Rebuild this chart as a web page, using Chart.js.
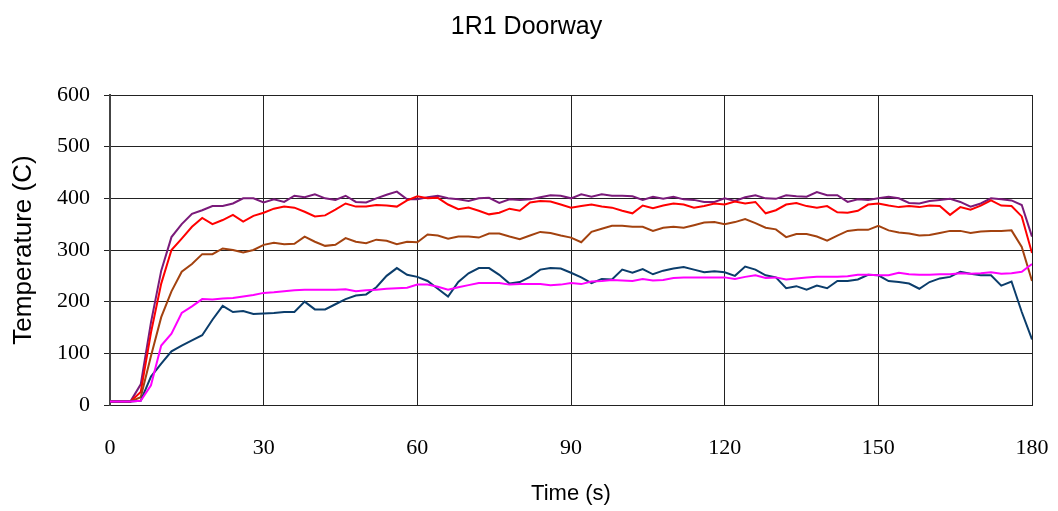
<!DOCTYPE html>
<html>
<head>
<meta charset="utf-8">
<script src="https://cdn.jsdelivr.net/npm/chart.js@4/dist/chart.umd.min.js"></script>
<style>
  html, body { margin: 0; padding: 0; background: #fff; }
  #wrap { width: 1058px; height: 511px; }
</style>
</head>
<body>
<div id="wrap"><canvas id="chart"></canvas></div>
<script>
// Time (s), sampled every 2 s
const times = [0, 2, 4, 6, 8, 10, 12, 14, 16, 18, 20, 22, 24, 26, 28, 30, 32, 34, 36, 38, 40, 42, 44,
  46, 48, 50, 52, 54, 56, 58, 60, 62, 64, 66, 68, 70, 72, 74, 76, 78, 80, 82, 84, 86, 88, 90,
  92, 94, 96, 98, 100, 102, 104, 106, 108, 110, 112, 114, 116, 118, 120, 122, 124, 126, 128, 130, 132, 134,
  136, 138, 140, 142, 144, 146, 148, 150, 152, 154, 156, 158, 160, 162, 164, 166, 168, 170, 172, 174, 176, 178, 180];

// Temperature (C) per thermocouple
const purpleTemps = [7, 7, 7, 40, 160, 260, 325, 350, 370, 377, 385, 385, 390, 400, 400, 392, 398, 393, 405, 402, 408, 400, 397,
  405, 393, 392, 400, 407, 413, 398, 398, 402, 405, 400, 398, 395, 400, 401, 391, 398, 397, 398, 402, 406, 405, 400,
  408, 403, 408, 405, 405, 404, 397, 403, 399, 403, 398, 397, 393, 393, 400, 395, 402, 406, 400, 399, 406, 404,
  403, 412, 406, 406, 393, 398, 397, 400, 403, 400, 391, 390, 395, 397, 399, 393, 384, 390, 400, 398, 396, 387, 326];

const redTemps = [7, 7, 7, 25, 140, 235, 300, 322, 345, 362, 350, 358, 368, 355, 366, 372, 380, 384, 382, 374, 365, 367, 378,
  390, 384, 384, 387, 386, 384, 396, 404, 400, 401, 388, 379, 382, 376, 369, 372, 380, 376, 392, 395, 394, 388, 382,
  385, 388, 384, 382, 376, 371, 386, 381, 386, 390, 388, 382, 385, 390, 388, 394, 390, 393, 371, 377, 388, 391,
  385, 382, 385, 373, 372, 376, 388, 390, 386, 383, 385, 383, 386, 385, 368, 383, 378, 386, 396, 386, 385, 365, 294];

const brownTemps = [7, 7, 7, 15, 95, 170, 220, 258, 273, 292, 292, 303, 300, 295, 300, 310, 314, 311, 312, 326, 316, 308, 310,
  323, 316, 313, 320, 318, 311, 316, 315, 330, 328, 322, 326, 326, 324, 332, 332, 326, 321, 328, 335, 333, 328, 324,
  315, 335, 341, 347, 347, 345, 345, 337, 343, 345, 343, 348, 353, 354, 350, 354, 360, 352, 343, 340, 325, 331,
  331, 326, 318, 328, 337, 339, 339, 347, 338, 334, 332, 328, 329, 333, 337, 337, 333, 336, 337, 337, 338, 306, 240];

const magentaTemps = [7, 7, 7, 8, 38, 115, 138, 178, 191, 205, 204, 206, 207, 210, 213, 217, 218, 220, 222, 223, 223, 223, 223,
  224, 220, 222, 223, 225, 226, 227, 233, 233, 229, 223, 228, 232, 236, 236, 236, 233, 234, 234, 234, 232, 233, 236,
  234, 239, 240, 242, 241, 240, 244, 241, 242, 246, 247, 247, 247, 247, 247, 244, 248, 251, 246, 247, 243, 245,
  247, 248, 248, 248, 249, 252, 252, 251, 251, 256, 253, 252, 252, 253, 253, 255, 254, 255, 257, 254, 255, 258, 273];

const navyTemps = [7, 7, 7, 8, 55, 80, 104, 115, 125, 135, 165, 192, 180, 182, 176, 177, 178, 180, 180, 200, 185, 185, 195,
  205, 212, 214, 228, 250, 265, 252, 248, 240, 225, 210, 238, 255, 265, 265, 252, 235, 238, 248, 262, 265, 264, 256,
  247, 236, 244, 243, 262, 256, 263, 253, 260, 264, 267, 262, 257, 259, 257, 250, 268, 262, 251, 247, 226, 230,
  223, 231, 226, 240, 240, 243, 252, 251, 240, 238, 235, 225, 238, 245, 248, 258, 254, 251, 251, 231, 239, 180, 127];

const titleText = '1R1 Doorway';
const xTitle = 'Time (s)';
const yTitle = 'Temperature (C)';

const toPoints = (vals) => vals.map((v, i) => ({ x: times[i], y: v }));

function series(label, vals, color) {
  return {
    label,
    data: toPoints(vals),
    borderColor: color,
    backgroundColor: color,
    borderWidth: 2,
    pointRadius: 0,
    tension: 0,
    fill: false
  };
}

const serifTicks = { family: "'Liberation Serif', 'Times New Roman', serif", size: 22 };
const sansFamily = "'Liberation Sans', Arial, sans-serif";

new Chart(document.getElementById('chart'), {
  type: 'line',
  data: {
    datasets: [
      series('TC 5', magentaTemps, '#ff00ff'),
      series('TC 4', navyTemps, '#0b3d6b'),
      series('TC 3', brownTemps, '#a3420f'),
      series('TC 2', redTemps, '#ff0000'),
      series('TC 1', purpleTemps, '#7a1a7a')
    ]
  },
  options: {
    responsive: true,
    maintainAspectRatio: false,
    animation: false,
    layout: { padding: { left: 0, right: 5, top: 0, bottom: 0 } },
    plugins: {
      legend: { display: false },
      tooltip: { enabled: false },
      title: {
        display: true,
        text: titleText,
        color: '#000',
        font: { family: sansFamily, size: 25, weight: 'normal' },
        padding: { top: 12, bottom: 53 }
      }
    },
    scales: {
      x: {
        type: 'linear',
        min: 0,
        max: 180,
        afterFit: (scale) => {
          scale.height = 106;
          scale.paddingLeft = 0;
          scale.paddingRight = 26;
        },
        ticks: { stepSize: 30, color: '#000', font: serifTicks, padding: 30, maxRotation: 0 },
        grid: { color: '#222', lineWidth: 1, drawTicks: false },
        border: { color: '#222', width: 1 },
        title: { display: true, text: xTitle, color: '#000', font: { family: sansFamily, size: 22 }, padding: { top: 0, bottom: 4 } }
      },
      y: {
        min: 0,
        max: 600,
        afterFit: (scale) => { scale.width = 110; },
        ticks: { stepSize: 100, color: '#000', font: serifTicks, padding: 14 },
        grid: { color: '#222', lineWidth: 1, tickLength: 6 },
        border: { color: '#444', width: 2 },
        title: { display: true, text: yTitle, color: '#000', font: { family: sansFamily, size: 26 }, padding: { top: 8, bottom: 0 } }
      }
    }
  }
});
</script>
</body>
</html>
